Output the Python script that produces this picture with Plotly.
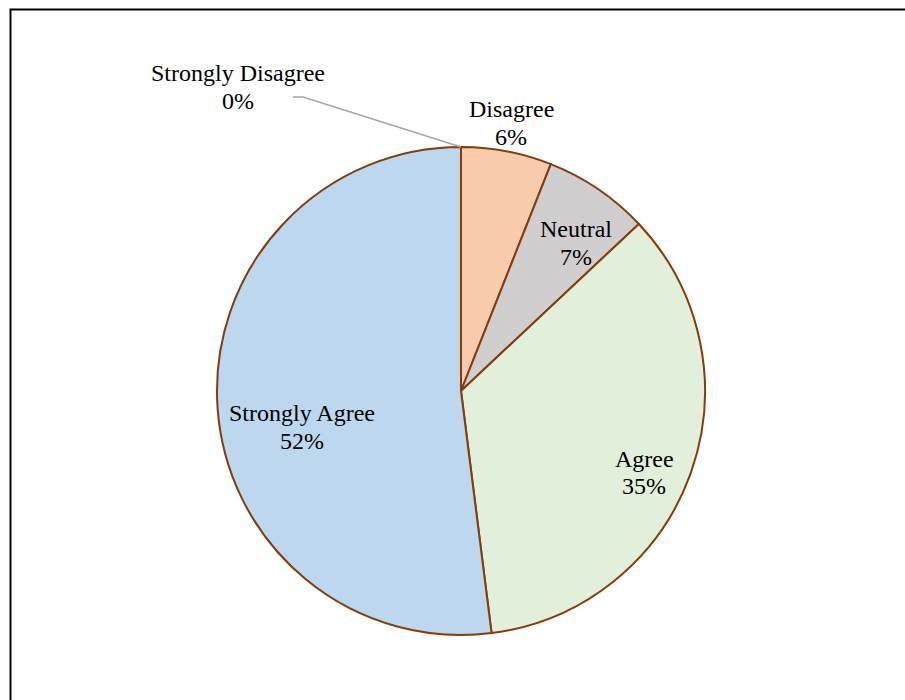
import plotly.graph_objects as go

# Survey response shares (percent)
categories = ["Strongly Disagree", "Disagree", "Neutral", "Agree", "Strongly Agree"]
shares = [0, 6, 7, 35, 52]
slice_colors = ["#9DC3E6", "#F8CBAD", "#D0CECE", "#E2EFDA", "#BDD7EE"]

W, H = 905, 700
cx, cy, R = 461, 391, 244  # pie centre and radius in pixels

fig = go.Figure(go.Pie(
    labels=categories,
    values=shares,
    sort=False,
    direction="clockwise",
    rotation=0,
    marker=dict(colors=slice_colors, line=dict(color="#843C0C", width=2)),
    textinfo="none",
    hoverinfo="label+percent",
    showlegend=False,
    domain=dict(x=[(cx - R) / W, (cx + R) / W],
                y=[(H - cy - R) / H, (H - cy + R) / H]),
))

# label anchor points (pixels): centre x, centre y of the first line
label_pos = {
    "Strongly Disagree": (238, 73),
    "Disagree": (511, 109),
    "Neutral": (576, 229),
    "Agree": (644, 459),
    "Strongly Agree": (302, 413),
}
line_gap = 27.5
label_font = dict(family="Liberation Serif, Times New Roman, serif", size=24, color="#000000")
total = sum(shares)
for name, val in zip(categories, shares):
    px, py = label_pos[name]
    for k, line in enumerate([name, f"{round(100 * val / total)}%"]):
        fig.add_annotation(
            x=px / W, y=1 - (py + k * line_gap) / H, xref="paper", yref="paper",
            text=line, showarrow=False, xanchor="center", yanchor="middle",
            font=label_font,
        )

# leader line for the zero-share slice
fig.add_shape(type="path", xref="paper", yref="paper",
              path=f"M {293/W} {1-97/H} L {303/W} {1-97/H} L {461/W} {1-147/H}",
              line=dict(color="#A6A6A6", width=1.5))

# chart frame
fig.add_shape(type="rect", xref="paper", yref="paper",
              x0=10.5 / W, x1=1.05, y0=-0.05, y1=1 - 9.5 / H,
              line=dict(color="#000000", width=2), fillcolor="rgba(0,0,0,0)")

fig.update_layout(
    width=W, height=H,
    margin=dict(l=0, r=0, t=0, b=0),
    paper_bgcolor="#FFFFFF",
    plot_bgcolor="#FFFFFF",
)

fig.write_html("out.html")
